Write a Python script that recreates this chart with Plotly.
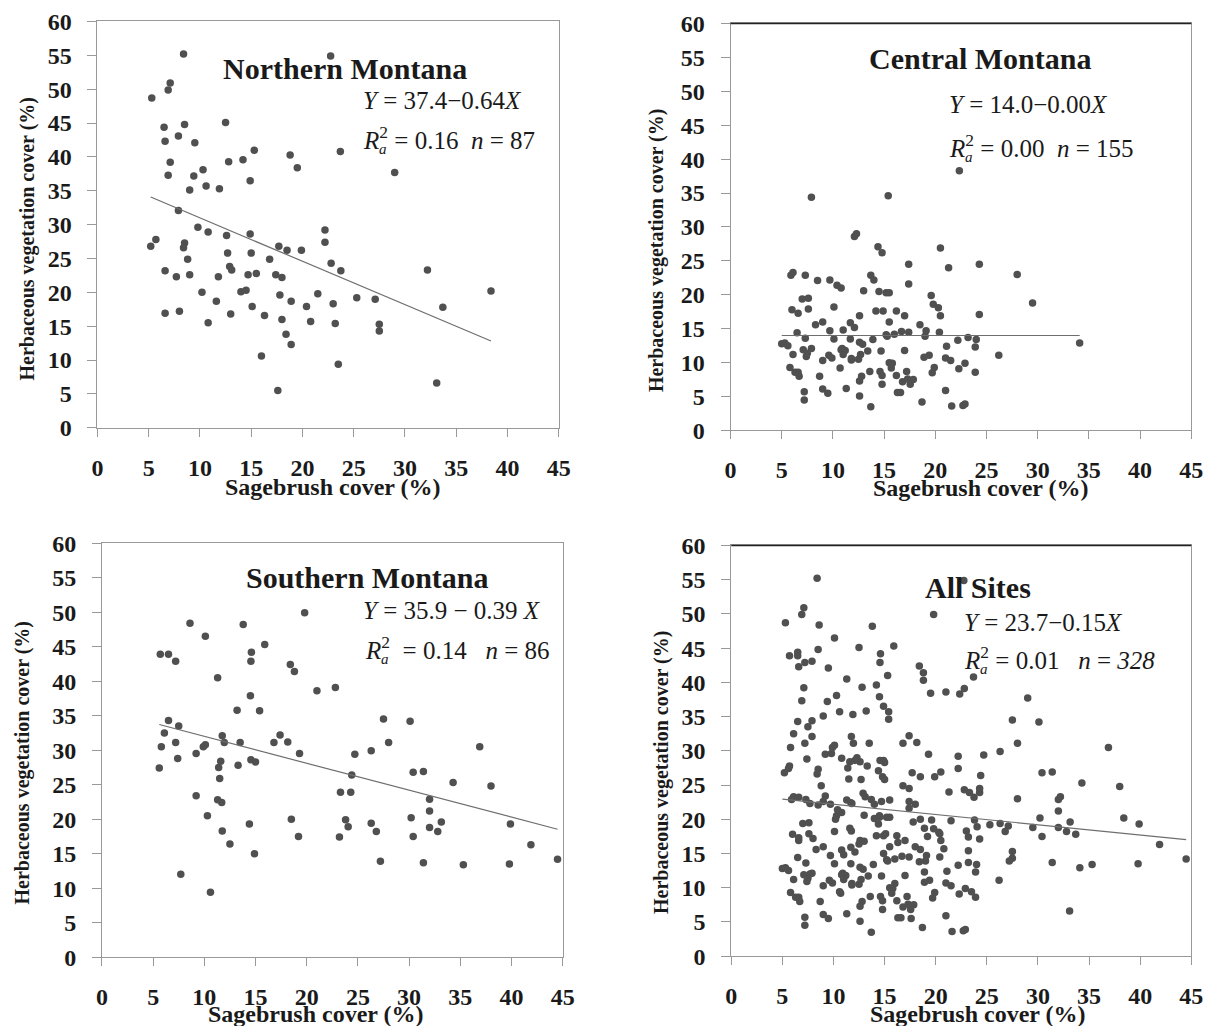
import plotly.graph_objects as go

# ---------------- data ----------------
north_x = [8.4, 7.1, 6.9, 5.3, 6.5, 8.5, 12.5, 7.9, 6.6, 9.5, 15.3, 14.2, 12.8, 7.1, 10.3, 6.9, 9.4, 14.9,
           10.6, 11.9, 9.0, 7.9, 18.8, 19.5, 9.8, 10.8, 12.6, 14.9, 5.7, 5.2, 8.5, 8.4, 12.7, 15.0, 17.7,
           18.5, 19.9, 8.8, 16.8, 12.9, 13.1, 6.6, 7.7, 9.0, 11.8, 14.7, 15.5, 17.4, 18.0, 10.2, 14.0, 14.5,
           17.8, 11.6, 15.1, 18.9, 20.4, 21.5, 6.6, 8.0, 10.8, 13.0, 16.3, 18.0, 20.8, 18.4, 18.9, 16.0, 17.6,
           22.75, 23.7, 29.0, 22.2, 22.2, 22.8, 23.75, 32.2, 38.4, 23.0, 25.3, 27.1, 33.7, 23.2, 27.5, 27.5,
           23.5, 33.1]
north_y = [55.2, 50.9, 49.9, 48.7, 44.4, 44.8, 45.1, 43.1, 42.3, 42.1, 41.0, 39.6, 39.3, 39.2, 38.1, 37.3,
           37.2, 36.5, 35.7, 35.3, 35.1, 32.1, 40.3, 38.4, 29.6, 28.9, 28.4, 28.6, 27.8, 26.8, 27.3, 26.6,
           25.8, 25.8, 26.8, 26.2, 26.2, 24.9, 24.9, 23.8, 23.3, 23.2, 22.3, 22.6, 22.3, 22.6, 22.8, 22.6,
           22.2, 20.0, 20.1, 20.3, 19.6, 18.7, 17.9, 18.7, 17.9, 19.8, 16.9, 17.2, 15.5, 16.8, 16.6, 16.0,
           15.7, 13.8, 12.3, 10.6, 5.5,
           54.9, 40.8, 37.7, 29.2, 27.4, 24.3, 23.2, 23.3, 20.2, 18.3, 19.2, 19.0, 17.8, 15.4, 15.3, 14.3,
           9.4, 6.6]

central_x = [7.9, 15.4, 12.1, 12.3, 14.4, 14.8, 17.4, 5.9, 6.1, 7.3, 8.5, 9.7, 10.4, 10.8, 13.7, 14.0, 13.0,
             14.5, 15.2, 15.5, 17.4, 7.0, 7.6, 7.6, 6.0, 6.6, 10.1, 12.6, 14.2, 14.9, 16.2, 17.0, 8.3, 9.0,
             11.7, 12.1, 15.5, 6.5, 9.7, 11.0, 15.2, 16.0, 16.7, 17.4, 7.3, 10.1, 11.7, 13.9, 15.3, 5.0, 5.3,
             5.6, 12.6, 12.9, 10.9, 11.2, 10.8, 7.1, 7.9, 6.1, 7.4, 7.5, 9.6, 9.9, 11.0, 11.8, 12.7, 12.5,
             13.4, 14.7, 17.0, 9.0, 11.8, 15.5, 15.8, 15.7, 5.8, 6.3, 6.6, 6.7, 8.7, 10.7, 12.6, 12.8, 13.6,
             14.6, 14.8, 16.2, 16.8, 17.2, 9.0, 9.5, 11.3, 14.8, 16.3, 16.6, 7.2, 7.2, 12.6, 13.7, 17.3,
             22.35, 20.5, 21.3, 24.3, 28.0, 19.6, 19.8, 20.3, 20.5, 24.3, 29.5, 18.5, 19.1, 19.0, 20.4, 22.2,
             23.2, 24.0, 21.1, 23.9, 26.2, 18.9, 19.4, 21.0, 21.5, 19.9, 22.9, 22.3, 19.7, 23.9, 17.85, 17.55,
             21.0, 18.7, 21.6, 22.7, 22.9, 34.1]
central_y = [34.4, 34.6, 28.6, 29.0, 27.1, 26.2, 24.5, 22.9, 23.3, 22.9, 22.1, 22.2, 21.4, 21.0, 22.9, 22.2,
             20.6, 20.5, 20.3, 20.3, 21.6, 19.4, 19.5, 17.9, 17.8, 17.3, 18.2, 16.9, 17.6, 17.6, 17.6, 16.9,
             15.6, 16.0, 15.9, 15.2, 16.0, 14.4, 14.7, 14.8, 14.1, 14.2, 14.6, 14.5, 13.6, 13.5, 13.5, 13.4,
             13.9, 12.8, 12.9, 12.5, 13.0, 12.7, 12.1, 11.8, 11.9, 11.9, 12.1, 11.2, 10.9, 11.4, 11.1, 10.7,
             11.2, 10.6, 11.2, 10.5, 11.7, 11.7, 11.8, 10.3, 10.4, 10.0, 9.9, 9.2, 9.3, 8.6, 8.6, 8.0, 8.0,
             9.2, 7.3, 8.0, 8.7, 8.7, 8.1, 8.1, 7.2, 8.7, 6.1, 5.5, 6.2, 6.8, 5.6, 5.6, 5.7, 4.5, 5.1, 3.5,
             7.6,
             38.3, 26.9, 24.0, 24.5, 23.0, 19.9, 18.6, 18.1, 16.9, 17.1, 18.8, 15.6, 14.7, 13.9, 14.5, 13.3,
             13.7, 13.4, 12.4, 12.3, 11.1, 10.8, 11.1, 10.7, 10.3, 9.3, 9.9, 9.1, 8.5, 8.6, 7.5, 6.8, 5.9,
             4.2, 3.6, 3.7, 3.9, 12.9]

south_x = [8.6, 13.8, 10.1, 19.8, 5.7, 6.5, 7.2, 14.6, 14.55, 15.9, 11.3, 18.4, 18.8, 21.0, 22.8, 14.5, 13.2,
           15.4, 6.5, 7.5, 6.1, 11.75, 17.4, 7.2, 11.95, 13.5, 16.8, 18.15, 5.8, 9.9, 10.1, 9.2, 19.3, 7.4,
           5.6, 11.6, 11.4, 13.3, 14.55, 15.0, 11.5, 9.2, 11.3, 11.7, 10.3, 14.4, 18.5, 11.75, 12.5, 19.2,
           14.9, 7.7, 10.6,
           27.5, 30.1, 28.0, 36.9, 24.7, 26.3, 30.4, 31.4, 24.4, 34.3, 38.0, 23.3, 24.3, 32.0, 32.0, 23.8,
           24.05, 26.3, 26.8, 30.2, 30.4, 32.0, 32.8, 33.15, 39.9, 23.2, 41.9, 27.2, 31.4, 35.3, 39.8, 44.5]
south_y = [48.4, 48.2, 46.5, 49.9, 43.9, 43.9, 42.9, 44.2, 42.9, 45.3, 40.5, 42.4, 41.4, 38.6, 39.1, 37.9,
           35.8, 35.7, 34.3, 33.5, 32.5, 32.1, 32.2, 31.1, 31.1, 31.1, 31.1, 31.2, 30.5, 30.5, 30.8, 29.5,
           29.5, 28.8, 27.4, 28.4, 27.5, 27.8, 28.6, 28.3, 25.9, 23.4, 22.8, 22.4, 20.5, 19.3, 20.0, 18.3,
           16.4, 17.5, 15.0, 12.0, 9.4,
           34.5, 34.2, 31.1, 30.5, 29.4, 29.9, 26.8, 26.9, 26.4, 25.3, 24.8, 23.9, 23.9, 22.9, 21.2, 19.9,
           18.9, 19.4, 18.2, 20.2, 17.5, 18.8, 18.2, 19.6, 19.3, 17.4, 16.3, 13.9, 13.7, 13.4, 13.5, 14.2]

# All sites = pooled data of the three regions (n = 87 + 155 + 86 = 328)
all_x = north_x + central_x + south_x
all_y = north_y + central_y + south_y

panel_titles = ["Northern Montana", "Central Montana", "Southern Montana", "All Sites"]
intercepts = [37.4, 14.0, 35.9, 23.7]
slopes = [-0.64, 0.00, -0.39, -0.15]
eq_texts = ["<i>Y</i> = 37.4\u22120.64<i>X</i>",
            "<i>Y</i> = 14.0\u22120.00<i>X</i>",
            "<i>Y</i> = 35.9 \u2212 0.39 <i>X</i>",
            "<i>Y</i> = 23.7\u22120.15<i>X</i>"]
r2_texts = ["<i>R</i><sup>2</sup> = 0.16\u00a0\u00a0<i>n</i> = 87",
            "<i>R</i><sup>2</sup> = 0.00\u00a0\u00a0<i>n</i> = 155",
            "<i>R</i><sup>2</sup>\u00a0 = 0.14\u00a0\u00a0\u00a0<i>n</i> = 86",
            "<i>R</i><sup>2</sup> = 0.01\u00a0\u00a0\u00a0<i>n</i> = <i>328</i>"]
x_ticks = [0, 5, 10, 15, 20, 25, 30, 35, 40, 45]
y_ticks = [0, 5, 10, 15, 20, 25, 30, 35, 40, 45, 50, 55, 60]
x_title = "Sagebrush cover (%)"
y_title = "Herbaceous vegetation cover (%)"

datasets = [(north_x, north_y), (central_x, central_y), (south_x, south_y), (all_x, all_y)]

# ---------------- layout geometry ----------------
W, H = 1214, 1026
# the page is photographed with a small offset/scale; targets below are screen pixels,
# converted here to figure pixels
SX, OX = 0.9858, 14.0
SY, OY = 0.9747, 20.5
def px(x):
    return ((x - OX) / SX) / W
def py(y):
    return 1 - ((y - OY) / SY) / H

# plot areas: (left, right, top, bottom) in screen pixels
areas = [(97.5, 559, 21, 427.3), (731, 1192, 23, 430), (102, 563, 542.7, 956.7), (731.7, 1192, 545, 955.7)]
title_pos = [(345, 68), (981, 58), (368, 577), (979, 587)]
eq_pos = [(361, 100), (948, 104), (361, 610), (963, 622)]
r2_pos = [(361, 138), (948, 146), (363, 648), (963, 658)]
xt_pos = [(333, 487), (982, 488), (316, 1014), (979, 1014)]
yt_pos = [(27, 238), (657, 250), (22, 762), (662, 772)]

SERIF = "Liberation Serif"
fig = go.Figure()
layout = dict(width=W, height=H, margin=dict(l=0, r=0, t=0, b=0), paper_bgcolor="white",
              plot_bgcolor="white", showlegend=False, annotations=[], shapes=[])

for i, ((xs, ys), area) in enumerate(zip(datasets, areas)):
    n = "" if i == 0 else str(i + 1)
    xa, ya = "x" + n, "y" + n
    l, r, t, b = area
    layout["xaxis" + n] = dict(domain=[px(l), px(r)], anchor=ya, range=[0, 45], tickvals=x_ticks,
                               ticks="outside", ticklen=8, tickcolor="#999", tickwidth=1,
                               showline=True, linecolor="#999", linewidth=1, mirror=True,
                               showgrid=False, zeroline=False, ticklabelstandoff=10,
                               tickfont=dict(family=SERIF, size=24, color="#1a1a1a", weight="bold"))
    layout["yaxis" + n] = dict(domain=[py(b), py(t)], anchor=xa, range=[0, 60], tickvals=y_ticks,
                               ticks="outside", ticklen=9, tickcolor="#999", tickwidth=1,
                               showline=True, linecolor="#999", linewidth=1, mirror=True,
                               showgrid=False, zeroline=False, ticklabelstandoff=11,
                               tickfont=dict(family=SERIF, size=24, color="#1a1a1a", weight="bold"))
    fig.add_trace(go.Scatter(x=xs, y=ys, mode="markers", xaxis=xa, yaxis=ya,
                             marker=dict(size=7.5, color="#505050", line=dict(width=0))))
    x0, x1 = min(xs), max(xs)
    fig.add_trace(go.Scatter(x=[x0, x1], y=[intercepts[i] + slopes[i] * x0, intercepts[i] + slopes[i] * x1],
                             mode="lines", xaxis=xa, yaxis=ya, line=dict(color="#6e6e6e", width=1.2)))
    if i in (1, 3):
        layout["shapes"].append(dict(type="line", xref=xa + " domain", yref=ya + " domain",
                                     x0=0, x1=1, y0=1, y1=1, line=dict(color="#222", width=1.3)))
    ann = layout["annotations"]
    tx, ty = title_pos[i]
    ann.append(dict(text="<b>%s</b>" % panel_titles[i], x=px(tx), y=py(ty), xref="paper", yref="paper",
                    showarrow=False, xanchor="center", yanchor="middle",
                    font=dict(family=SERIF, size=30, color="#1a1a1a")))
    ex, ey = eq_pos[i]
    ann.append(dict(text=eq_texts[i], x=px(ex), y=py(ey), xref="paper", yref="paper", showarrow=False,
                    xanchor="left", yanchor="middle", font=dict(family=SERIF, size=25, color="#1a1a1a")))
    rx, ry = r2_pos[i]
    ann.append(dict(text=r2_texts[i], x=px(rx), y=py(ry), xref="paper", yref="paper", showarrow=False,
                    xanchor="left", yanchor="middle", font=dict(family=SERIF, size=25, color="#1a1a1a")))
    ann.append(dict(text="<i>a</i>", x=px(rx + 16), y=py(ry + 11), xref="paper", yref="paper",
                    showarrow=False, xanchor="left", yanchor="middle",
                    font=dict(family=SERIF, size=15, color="#1a1a1a")))
    xx, xy = xt_pos[i]
    ann.append(dict(text="<b>%s</b>" % x_title, x=px(xx), y=py(xy), xref="paper", yref="paper",
                    showarrow=False, xanchor="center", yanchor="middle",
                    font=dict(family=SERIF, size=24, color="#1a1a1a")))
    yx, yy = yt_pos[i]
    ann.append(dict(text="<b>%s</b>" % y_title, x=px(yx), y=py(yy), xref="paper", yref="paper",
                    showarrow=False, xanchor="center", yanchor="middle", textangle=-90,
                    font=dict(family=SERIF, size=20, color="#1a1a1a")))

fig.update_layout(**layout)
fig.write_html("out.html")
